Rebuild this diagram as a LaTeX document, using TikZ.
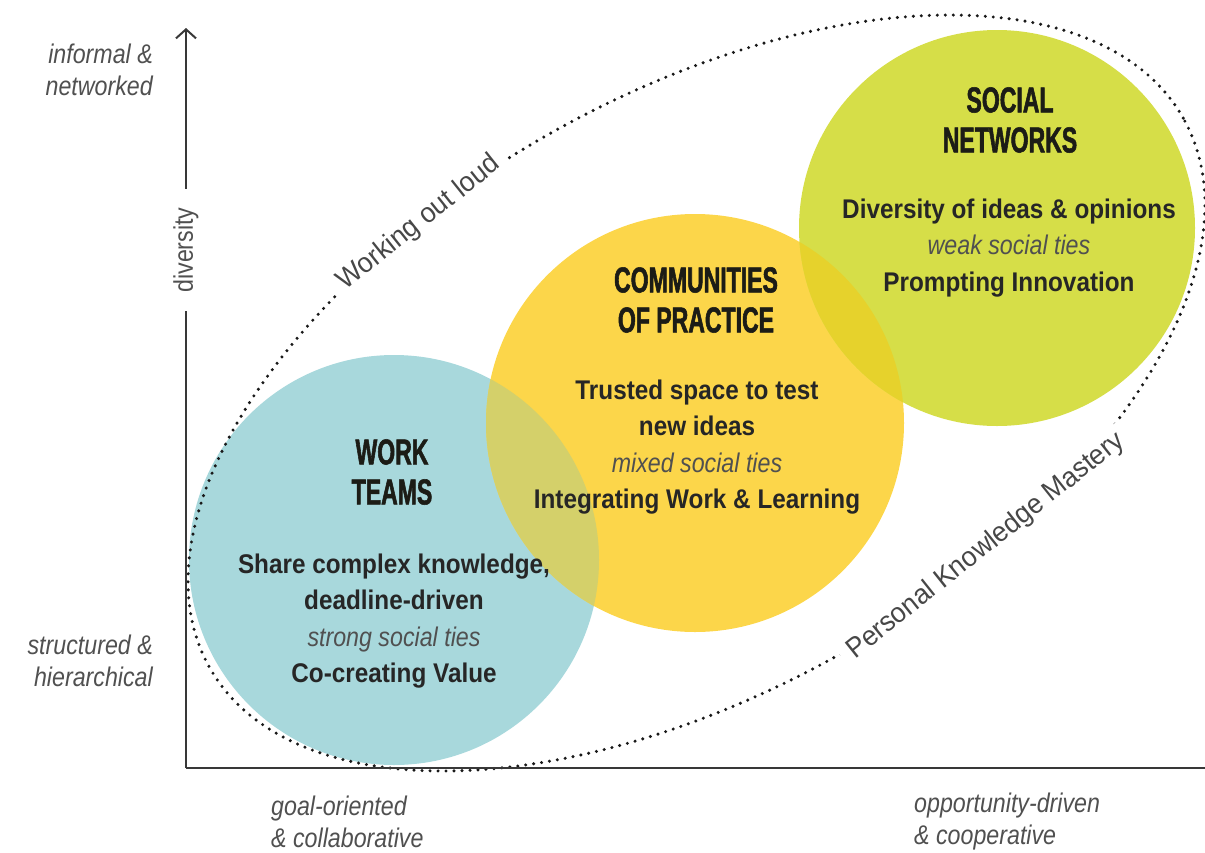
\documentclass[tikz,border=0pt]{standalone}
\usepackage{fontspec}
\setmainfont{Liberation Sans}
\newfontfamily\headfont{Liberation Sans}[FakeStretch=0.64,FakeBold=1.5]
\newfontfamily\bodyfont{Liberation Sans}[FakeStretch=0.9]
\newfontfamily\labelfont{Liberation Sans}[FakeStretch=0.86]
\newfontfamily\curvefont{Liberation Sans}[FakeStretch=0.95]
\usetikzlibrary{arrows.meta}
\definecolor{teamteal}{RGB}{168,216,220}
\definecolor{copyellow}{RGB}{252,214,74}
\definecolor{netgreen}{RGB}{214,222,72}
\definecolor{tealyellow}{RGB}{212,208,106}
\definecolor{yellowgreen}{RGB}{230,210,44}
\definecolor{inkgray}{RGB}{80,80,80}
\definecolor{titleink}{RGB}{28,28,22}
\begin{document}
\begin{tikzpicture}[
   x=1pt,y=-1pt,
   axis/.style={line width=2pt,draw=black!78},
   heading/.style={align=center,font=\headfont\bfseries\fontsize{36}{40}\selectfont,text=titleink,inner sep=0pt},
   body/.style={align=center,font=\bodyfont\bfseries\fontsize{27}{36.5}\selectfont,text=black!85,inner sep=0pt},
   axislabel/.style={font=\labelfont\itshape\fontsize{27}{32}\selectfont,text=inkgray,inner sep=0pt},
   curvelabel/.style={font=\curvefont\fontsize{28}{30}\selectfont,text=black!72,fill=white,inner xsep=9pt,inner ysep=3pt},
   dotline/.style={draw=black!90,line width=3.4pt,line cap=round,dash pattern=on 0pt off 8pt}
 ]
  \useasboundingbox (0,0) rectangle (1205,852);
  \newcommand{\ties}[1]{{\labelfont\mdseries\itshape\color{inkgray}#1}}
  \coordinate (teams) at (394,560);
  \coordinate (cop) at (695,423);
  \coordinate (nets) at (997,228);
  \fill[teamteal] (teams) circle (205);
  \fill[copyellow] (cop) circle (209);
  \fill[netgreen] (nets) circle (198);
  \begin{scope}
    \clip (teams) circle (205);
    \fill[tealyellow] (cop) circle (209);
  \end{scope}
  \begin{scope}
    \clip (cop) circle (209);
    \fill[yellowgreen] (nets) circle (198);
  \end{scope}
  \coordinate (ectr) at (696.5,393);
  \begin{scope}[shift={(ectr)},rotate=29.45]
    \draw[dotline] (0,0) ellipse [x radius=559pt,y radius=298pt];
  \end{scope}
  \node[curvelabel,rotate=38.5] (loud) at (419,223) {Working out loud};
  \node[curvelabel,rotate=38.5] (pkm) at (986,546) {Personal Knowledge Mastery};
  \node[heading] (teamstitle) at (392,472) {WORK\\TEAMS};
  \node[body] (teamstext) at (394,621) {Share complex knowledge,\\deadline-driven\\\ties{strong social ties}\\Co-creating Value};
  \node[heading] (coptitle) at (696,300) {COMMUNITIES\\OF PRACTICE};
  \node[body] (coptext) at (697,447) {Trusted space to test\\new ideas\\\ties{mixed social ties}\\Integrating Work \& Learning};
  \node[heading] (netstitle) at (1010,120) {SOCIAL\\NETWORKS};
  \node[body] (netstext) at (1009,248) {Diversity of ideas \& opinions\\\ties{weak social ties}\\Prompting Innovation};
  \coordinate (origin) at (186,768);
  \coordinate (ytop) at (186,28);
  \coordinate (xend) at (1205,768);
  \draw[axis,-{Straight Barb[length=9pt,width=20pt]}] (origin) -- (ytop);
  \draw[axis] (origin) -- (xend);
  \node[font=\labelfont\fontsize{27}{30}\selectfont,text=inkgray,rotate=90,fill=white,inner xsep=18pt,inner ysep=2pt] (diversity) at (186,250) {diversity};
  \node[axislabel,anchor=east,align=right] (informal) at (153,70) {informal \&\\networked};
  \node[axislabel,anchor=east,align=right] (structured) at (153,661) {structured \&\\hierarchical};
  \node[axislabel,anchor=west,align=left] (goal) at (271,822) {goal-oriented\\\& collaborative};
  \node[axislabel,anchor=west,align=left] (opportunity) at (914,822) {opportunity-driven\\\& cooperative};
 \end{tikzpicture}
\end{document}
